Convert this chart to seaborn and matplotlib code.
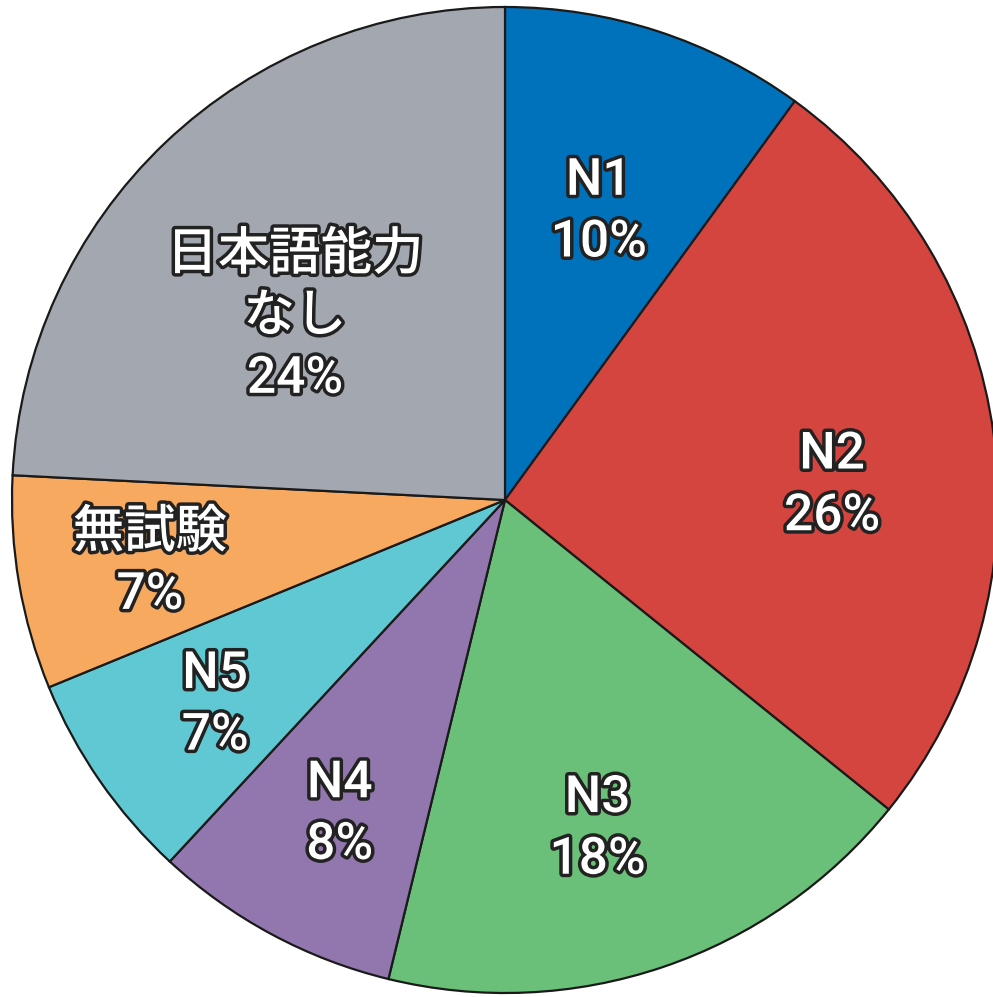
import numpy as np
import matplotlib
matplotlib.use("Agg")
import matplotlib.pyplot as plt
import matplotlib.patheffects as pe
import seaborn as sns

categories = ["N1", "N2", "N3", "N4", "N5", "無試験", "日本語能力\nなし"]
values = [10.0, 25.8, 18.0, 8.1, 6.9, 7.0, 24.2]
pct_labels = ["10%", "26%", "18%", "8%", "7%", "7%", "24%"]
colors = ["#0071BB", "#D4453F", "#6AC079", "#9277AF", "#5FC8D2", "#F7A95F", "#A3A7B0"]
label_radius = [0.615, 0.664, 0.693, 0.72, 0.72, 0.732, 0.565]
label_angle_shift = [0.0, -5.0, -3.0, 0.5, 0.5, 0.5, 5.4]

sns.set_theme(style="white")
plt.rcParams["font.family"] = ["Roboto", "Noto Sans CJK JP", "DejaVu Sans"]

W, H = 993, 997
fig = plt.figure(figsize=(W / 100, H / 100), dpi=100)
ax = fig.add_axes([0, 0, 1, 1])
R = 493.0
cx, cy = 505.0, 500.0

wedges, _ = ax.pie(values, colors=colors, startangle=90, counterclock=False,
                   radius=1.0,
                   wedgeprops=dict(edgecolor="#1a1a1a", linewidth=1.6))

for w, cat, pct, rr, da in zip(wedges, categories, pct_labels, label_radius, label_angle_shift):
    ang = np.deg2rad((w.theta1 + w.theta2) / 2 + da)
    x, y = rr * np.cos(ang), rr * np.sin(ang)
    ax.text(x, y, cat + "\n" + pct, ha="center", va="center", color="white",
            fontsize=37, fontweight="medium", linespacing=1.3,
            path_effects=[pe.withStroke(linewidth=5, foreground="#222222")])

ax.set_xlim(-cx / R, (W - cx) / R)
ax.set_ylim(-(H - cy) / R, cy / R)
ax.set_aspect("auto")
ax.axis("off")
fig.savefig("out.png", dpi=100, facecolor="white")
